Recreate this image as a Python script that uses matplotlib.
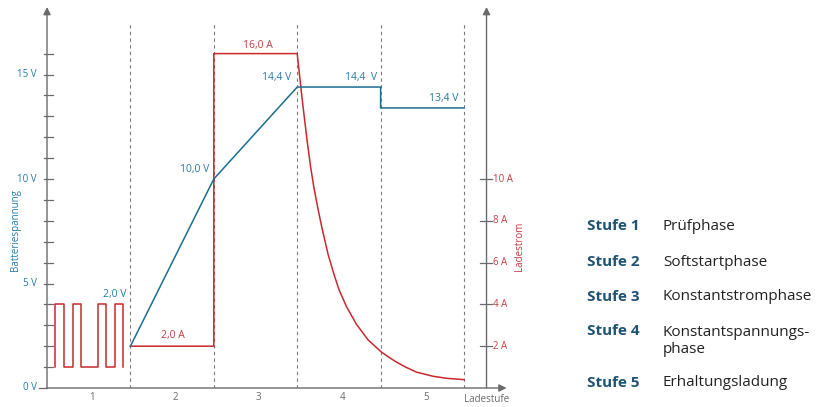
import matplotlib

matplotlib.use("Agg")
import matplotlib.pyplot as plt

plt.rcParams["font.family"] = ["Open Sans", "DejaVu Sans"]

BLUE = "#1b6d92"
BLUE_TXT = "#2a7aa3"
RED = "#c8282e"
RED_TXT = "#c63c40"
GRAY = "#6a6a6a"
NAVY = "#1f5273"

# stage 1: test pulses (current, A)
pulse_t = [0.1, 0.1, 0.2, 0.31, 0.41, 0.61, 0.71, 0.81, 0.91]
pulse_i = [1, 4, 1, 4, 1, 4, 1, 4, 1]

# charging current (A) over stages 2..5
curr_t = [1.0, 2.0, 2.0, 3.0, 3.03, 3.06, 3.09, 3.12, 3.16, 3.2, 3.25, 3.3,
          3.37, 3.44, 3.5, 3.59, 3.71, 3.85, 4.01, 4.1, 4.19, 4.3, 4.43,
          4.63, 4.8, 5.0]
curr_i = [2.0, 2.0, 16.0, 16.0, 14.9, 13.8, 12.8, 11.8, 10.6, 9.6, 8.55, 7.6,
          6.4, 5.45, 4.72, 3.9, 3.05, 2.3, 1.72, 1.47, 1.24, 1.0, 0.76,
          0.56, 0.46, 0.4]

# battery voltage (V)
volt_t = [1.0, 2.0, 3.0, 4.0, 4.0, 5.0]
volt_v = [2.0, 10.0, 14.4, 14.4, 13.4, 13.4]

stage_bounds = [1, 2, 3, 4, 5]
stage_labels = ["1", "2", "3", "4", "5"]
volt_ticks = [0, 5, 10, 15]
amp_ticks = [2, 4, 6, 8, 10]

legend_keys = ["Stufe 1", "Stufe 2", "Stufe 3", "Stufe 4", "Stufe 5"]
legend_vals = ["Prüfphase", "Softstartphase", "Konstantstromphase",
               "Konstantspannungs-\nphase", "Erhaltungsladung"]

W, H = 826, 407
fig = plt.figure(figsize=(W / 100, H / 100), dpi=100)
x0, y0, x1, y1 = 47, 388, 510, 5
ax = fig.add_axes([x0 / W, (H - y0) / H, (x1 - x0) / W, (y0 - y1) / H])
px_x = 83.4
px_y = 20.9
ax.set_xlim(0, (x1 - x0) / px_x)
ax.set_ylim(0, (y0 - y1) / px_y)
ax.axis("off")

RAX = 5.27
YTOP = 18.23

# axes with arrows
arrow = dict(arrowstyle="-|>", color=GRAY, lw=1.0, mutation_scale=11,
             shrinkA=0, shrinkB=0)
ax.annotate("", xy=(0, YTOP), xytext=(0, 0), arrowprops=arrow,
            annotation_clip=False)
ax.annotate("", xy=(RAX, YTOP), xytext=(RAX, 0), arrowprops=arrow,
            annotation_clip=False)
ax.annotate("", xy=(5.51, 0), xytext=(0, 0), arrowprops=arrow,
            annotation_clip=False)

# left ticks
for v in range(1, 17):
    ax.plot([-0.04, 0.075], [v, v], color=GRAY, lw=0.9, clip_on=False)
ax.plot([-0.09, 0], [0, 0], color=GRAY, lw=0.9, clip_on=False)
for v in volt_ticks:
    ax.text(-0.12, v, f"{v} V", ha="right", va="center", fontsize=7,
            color=BLUE_TXT)
ax.text(-0.38, 7.56, "Batteriespannung", rotation=90, ha="center",
        va="center", fontsize=7, color=BLUE_TXT)

# right ticks
for a in amp_ticks:
    ax.plot([RAX - 0.08, RAX + 0.06], [a, a], color=GRAY, lw=0.9)
    ax.text(RAX + 0.075, a, f"{a} A", ha="left", va="center", fontsize=7,
            color=RED_TXT)
ax.text(5.67, 6.77, "Ladestrom", rotation=90, ha="center", va="center",
        fontsize=7, color=RED_TXT)

# stage separators and labels
for b in stage_bounds:
    ax.plot([b, b], [0, 17.5], color="#7a7a7a", lw=0.8, ls=(0, (3, 3)))
for k, lab in enumerate(stage_labels):
    ax.text(k + 0.54, -0.46, lab, ha="center", va="center", fontsize=7,
            color=GRAY)
ax.text(RAX, -0.54, "Ladestufe", ha="center", va="center", fontsize=7,
        color=GRAY)

# series
ax.plot(pulse_t, pulse_i, color=RED, lw=1.1, drawstyle="steps-post")
ax.plot(curr_t, curr_i, color=RED, lw=1.1)
ax.plot(volt_t, volt_v, color=BLUE, lw=1.1)

# value labels
ax.text(2.53, 16.4, "16,0 A", ha="center", va="center", fontsize=7.5,
        color=RED_TXT)
ax.text(1.51, 2.49, "2,0 A", ha="center", va="center", fontsize=7.5,
        color=RED_TXT)
ax.text(0.81, 4.46, "2,0 V", ha="center", va="center", fontsize=7.5,
        color=BLUE_TXT)
ax.text(1.95, 10.46, "10,0 V", ha="right", va="center", fontsize=7.5,
        color=BLUE_TXT)
ax.text(2.93, 14.87, "14,4 V", ha="right", va="center", fontsize=7.5,
        color=BLUE_TXT)
ax.text(3.76, 14.87, "14,4  V", ha="center", va="center", fontsize=7.5,
        color=BLUE_TXT)
ax.text(4.93, 13.86, "13,4 V", ha="right", va="center", fontsize=7.5,
        color=BLUE_TXT)

# legend
row_y = [226, 262, 297, 331, 383]
for key, val, ry in zip(legend_keys, legend_vals, row_y):
    fig.text(587 / W, 1 - ry / H, key, ha="left", va="center", fontsize=11,
             fontweight="bold", color=NAVY)
    vy = ry + 10 if "\n" in val else ry
    fig.text(663 / W, 1 - vy / H, val, ha="left", va="center", fontsize=11,
             color="#222222", linespacing=1.1)

fig.savefig("out.png", dpi=100)
